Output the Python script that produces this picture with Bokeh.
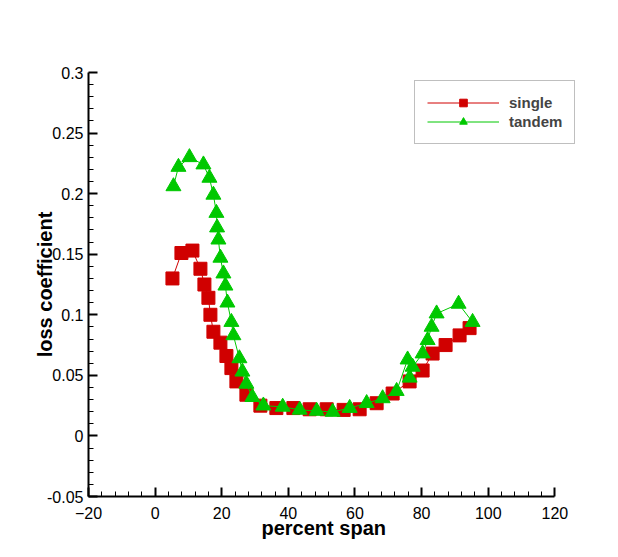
from bokeh.plotting import figure
from bokeh.models import Legend, LegendItem, Range1d, FixedTicker, Title
from bokeh.embed import file_html
from bokeh.resources import INLINE

single_x = [5.2, 7.9, 11.2, 13.6, 14.8, 16.0, 16.6, 17.5, 19.6, 21.4, 22.9, 24.4, 27.4,
            31.6, 36.4, 41.5, 46.4, 51.5, 56.6, 61.4, 66.5, 71.3, 76.4, 80.3, 83.3,
            87.2, 91.4, 94.4]
single_y = [0.130, 0.151, 0.153, 0.138, 0.125, 0.114, 0.100, 0.086, 0.077, 0.066, 0.056,
            0.045, 0.034, 0.025, 0.023, 0.023, 0.022, 0.022, 0.0215, 0.022, 0.027, 0.035,
            0.045, 0.054, 0.068, 0.075, 0.083, 0.089]

tandem_x = [5.5, 7.0, 10.3, 14.5, 16.3, 17.5, 18.4, 18.6, 19.0, 19.6, 20.5, 21.1, 21.7,
            22.9, 23.5, 25.3, 26.2, 27.4, 29.2, 32.5, 38.3, 43.4, 48.5, 53.3, 58.4, 63.5,
            68.3, 72.5, 75.8, 76.4, 77.3, 80.3, 81.8, 83.0, 84.5, 91.1, 95.3]
tandem_y = [0.206, 0.222, 0.230, 0.224, 0.213, 0.199, 0.184, 0.172, 0.162, 0.147, 0.134,
            0.124, 0.110, 0.094, 0.083, 0.064, 0.053, 0.043, 0.032, 0.025, 0.024, 0.0215,
            0.0206, 0.0198, 0.023, 0.027, 0.031, 0.037, 0.063, 0.048, 0.057, 0.068, 0.079,
            0.090, 0.101, 0.109, 0.094]

x_ticks = [-20, 0, 20, 40, 60, 80, 100, 120]
y_ticks = [-0.05, 0, 0.05, 0.1, 0.15, 0.2, 0.25, 0.3]
y_tick_labels = ["-0.05", "0", "0.05", "0.1", "0.15", "0.2", "0.25", "0.3"]

RED = "#D00000"
GREEN = "#00C800"

p = figure(width=611, height=550, output_backend="svg", toolbar_location=None,
           x_range=Range1d(-20, 128), y_range=Range1d(-0.05, 0.3),
           min_border_left=88, min_border_right=30, min_border_top=72, min_border_bottom=54)
p.outline_line_color = None
p.grid.visible = False
p.background_fill_color = "white"
p.border_fill_color = "white"

l1 = p.line(single_x, single_y, line_color=RED, line_width=1)
s1 = p.scatter(single_x, single_y, marker="square", size=13, fill_color=RED, line_color=RED)
l2 = p.line(tandem_x, tandem_y, line_color=GREEN, line_width=1)
s2 = p.scatter(tandem_x, tandem_y, marker="triangle", size=15, fill_color=GREEN, line_color=GREEN)

minor_x = [v for v in range(-20, 121, 4) if v % 20 != 0]
minor_y = [round(-0.05 + 0.01 * i, 3) for i in range(36)]
minor_y = [v for v in minor_y if round(v * 100) % 5 != 0]

for ax in (p.xaxis[0], p.yaxis[0]):
    ax.axis_line_width = 2
    ax.axis_line_color = "black"
    ax.major_tick_in = 9
    ax.major_tick_out = 0
    ax.minor_tick_in = 5
    ax.minor_tick_out = 0
    ax.major_tick_line_width = 2
    ax.minor_tick_line_width = 1
    ax.major_label_text_font = "Liberation Sans"
    ax.major_label_text_font_size = "16px"
    ax.major_label_text_color = "black"
    ax.axis_label_text_font = "Liberation Sans"
    ax.axis_label_text_font_style = "bold"
    ax.axis_label_text_font_size = "20px"
    ax.axis_label_text_color = "black"

p.xaxis[0].bounds = (-20, 120)
p.xaxis[0].ticker = FixedTicker(ticks=x_ticks, minor_ticks=minor_x)
p.yaxis[0].ticker = FixedTicker(ticks=y_ticks, minor_ticks=minor_y)
p.yaxis[0].major_label_overrides = {v: s for v, s in zip(y_ticks, y_tick_labels)}
p.xaxis[0].major_label_standoff = 10
p.yaxis[0].major_label_standoff = 5

p.yaxis[0].axis_label = "loss coefficient"
p.yaxis[0].axis_label_standoff = -12

xtitle = Title(text="percent span", align="left", offset=173, standoff=-14,
               text_font="Liberation Sans", text_font_style="bold",
               text_font_size="20px", text_color="black")
p.add_layout(xtitle, "below")

legend = Legend(items=[LegendItem(label="single", renderers=[l1, s1]),
                       LegendItem(label="tandem", renderers=[l2, s2])],
                location=(326, 352), orientation="vertical",
                glyph_width=72, glyph_height=19, label_height=19, spacing=0,
                padding=12, label_standoff=10, margin=0,
                label_text_font="Liberation Sans", label_text_font_style="bold",
                label_text_font_size="15px",
                border_line_color="#808080", border_line_width=1,
                background_fill_color="white", background_fill_alpha=1)
p.add_layout(legend)

open("out.html", "w").write(file_html(p, INLINE))
